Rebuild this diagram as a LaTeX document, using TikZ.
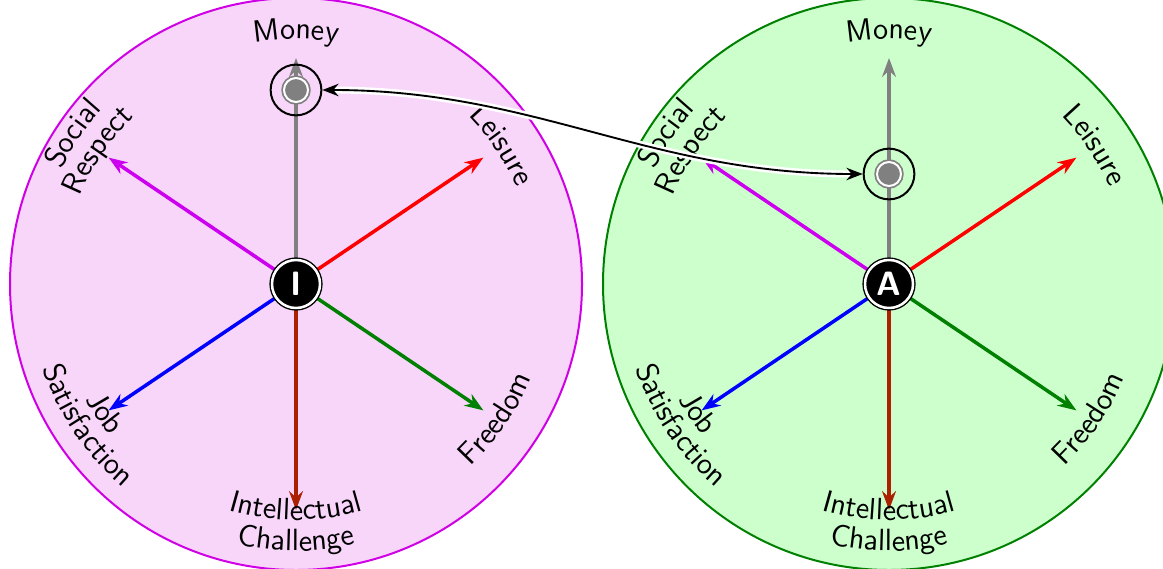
\documentclass[tikz,border=0pt]{standalone}
\usetikzlibrary{arrows.meta,decorations.text}
\renewcommand{\familydefault}{\sfdefault}
\definecolor{pinkbg}{RGB}{248,214,250}
\definecolor{pinkline}{RGB}{208,0,230}
\definecolor{greenbg}{RGB}{204,255,204}
\definecolor{greenline}{RGB}{0,128,0}
\definecolor{brick}{RGB}{170,32,0}
\definecolor{violetm}{RGB}{204,0,238}
\def\lab{\fontsize{12.3}{15}\selectfont}
% words along the rim, outward (top) or inward (bottom)
\newcommand\wordup[3]{\path[decorate,decoration={text along path,text align=center,text={|\lab|#3}}]
  (0,0) ++(#1+40:#2) arc[start angle=#1+40,end angle=#1-40,radius=#2];}
\newcommand\worddown[3]{\path[decorate,decoration={text along path,text align=center,text={|\lab|#3}}]
  (0,0) ++(#1-40:#2) arc[start angle=#1-40,end angle=#1+40,radius=#2];}
\begin{document}
\begin{tikzpicture}[x=0.4pt,y=0.4pt,line join=round,line cap=round,
    hub/.style={circle,fill=black,draw=black,double=white,double distance=1pt,line width=0.55pt,
      minimum size=19.2pt,inner sep=0pt,text=white,font=\fontsize{13.5}{15}\selectfont\bfseries},
    ring/.style={circle,draw=black,line width=0.8pt,minimum size=20.3pt,inner sep=0pt},
    dot/.style={circle,fill=gray,draw=gray,double=white,double distance=0.8pt,line width=0.7pt,
      minimum size=9.6pt,inner sep=0pt},
    axis/.style={line width=1.4pt,-{Stealth[length=7.5pt,width=5.5pt]}}]
  \useasboundingbox (0,0) rectangle (1163,568);
  \foreach \cx/\nm/\bg/\ln/\my in {296/I/pinkbg/pinkline/478, 889/A/greenbg/greenline/394}{
    \coordinate (c\nm) at (\cx,284);
    \draw[fill=\bg,draw=\ln,line width=0.8pt] (c\nm) circle[radius=286];
    \foreach \ang/\col in {90/gray,34/red,-34/greenline,-90/brick,214/blue,146/violetm}
      \draw[axis,\col] (c\nm) -- ++(\ang:226);
    \node[hub] (h\nm) at (c\nm) {\nm};
    \node[ring] (m\nm) at (\cx,\my) {};
    \node[dot] (d\nm) at (m\nm) {};
    \begin{scope}[shift={(c\nm)}]
      \wordup{90}{245}{Money}
      \wordup{34}{241}{Leisure}
      \wordup{146}{261}{Social}
      \wordup{146}{233}{Respect}
      \worddown{-34}{253}{Freedom}
      \worddown{-90}{236}{Intellectual}
      \worddown{-90}{267}{Challenge}
      \worddown{214}{240}{Job}
      \worddown{214}{267}{Satisfaction}
    \end{scope}
  }
  \draw[{Stealth[length=6.5pt,width=5pt]}-{Stealth[length=6.5pt,width=5pt]},line width=0.75pt,
    preaction={draw=white,line width=2.8pt,-,shorten <=4pt,shorten >=4pt}] (mI) to[out=0,in=180] (mA);
\end{tikzpicture}
\end{document}
